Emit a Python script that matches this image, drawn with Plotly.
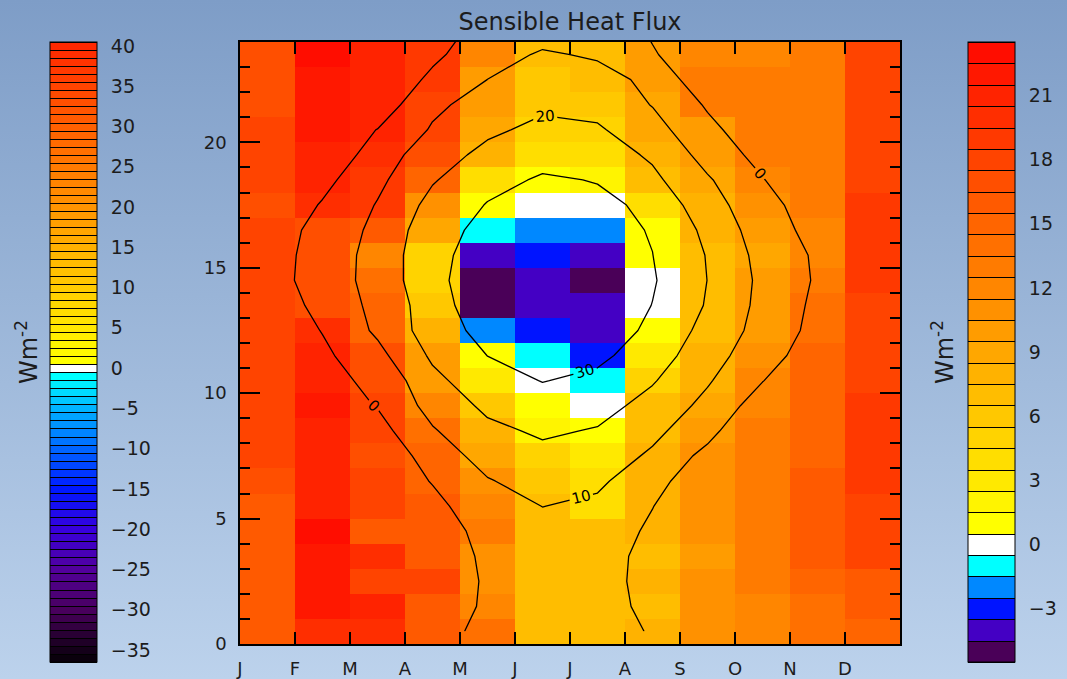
import base64
import plotly.graph_objects as go

# ---------------------------------------------------------------------------
# Data
# ---------------------------------------------------------------------------
months = ["J", "F", "M", "A", "M", "J", "J", "A", "S", "O", "N", "D"]
hour_ticks = [0, 5, 10, 15, 20]

# Sensible heat flux (W m-2), one list per month, hours 0..23
shf_jan = [16, 16, 16, 16, 16, 16, 17, 18, 18, 18, 18, 18, 18, 18, 18, 18, 18, 17, 18, 18, 18, 17, 17, 17]
shf_feb = [20, 22, 22, 22, 23, 21, 21, 21, 21, 22, 21, 21, 20, 17, 17, 17, 17, 20, 21, 21, 22, 22, 22, 23]
shf_mar = [20, 21, 18, 20, 16, 18, 18, 17, 18, 18, 17, 17, 15, 15, 14, 12, 16, 19, 19, 20, 21, 21, 21, 21]
shf_apr = [16, 16, 18, 16, 16, 16, 15, 15, 14, 12, 10, 10, 8, 6, 5, 5, 9, 11, 15, 17, 18, 18, 19, 19]
shf_may = [14, 12, 11, 11, 13, 12, 11, 9, 8, 6, 3, 1, -2, -5, -5, -4, -1, 1, 4, 8, 9, 10, 10, 12]
shf_jun = [7, 7, 7, 7, 7, 7, 6, 5, 2, 1, 0, -1, -3, -4, -4, -3, -2, 0, 1, 4, 5, 6, 6, 7]
shf_jul = [7, 7, 7, 7, 7, 4, 4, 3, 1, 0, -1, -3, -4, -4, -5, -4, -2, 0, 2, 4, 5, 6, 7, 7]
shf_aug = [8, 7, 8, 7, 8, 8, 8, 8, 7, 7, 5, 3, 1, 0, 0, 1, 1, 4, 7, 8, 9, 9, 10, 10]
shf_sep = [11, 11, 11, 10, 11, 11, 11, 11, 10, 9, 8, 8, 7, 7, 7, 7, 8, 8, 9, 10, 10, 13, 13, 12]
shf_oct = [12, 12, 13, 13, 13, 13, 13, 13, 13, 12, 12, 11, 10, 10, 10, 9, 10, 11, 12, 13, 13, 13, 13, 12]
shf_nov = [14, 14, 15, 16, 16, 16, 16, 15, 15, 15, 15, 15, 14, 14, 13, 12, 12, 13, 13, 13, 13, 13, 13, 13]
shf_dec = [15, 16, 16, 18, 18, 18, 19, 19, 19, 19, 18, 18, 18, 18, 19, 19, 19, 19, 18, 18, 18, 18, 18, 18]

# Field drawn as labelled contour lines (W m-2), sampled at the cell
# centres, hours 0.5..24.5 (the last sample wraps round to 0.5)
ctr_jan = [-16, -16, -16, -15, -14, -13, -12, -12, -11, -10, -9, -8, -7.6, -7.4, -4.4, -4.7, -5.2, -8.1, -10, -11, -12, -13, -14, -15, -16]
ctr_feb = [-18, -18, -18, -17, -16, -15, -13, -12, -10, -5.8, -2.5, -2.0, 0.4, 3.5, 4.6, 4.3, 3.2, 0.8, -2.8, -7.7, -6, -10, -13, -16, -18]
ctr_mar = [-15, -15, -15, -14, -13, -11, -8, -8.2, -3.6, 0.5, 1.9, 7.1, 11.7, 12.5, 13.6, 13.5, 12.4, 10.6, 7.8, 4.7, 0.2, -5.7, -8.4, -12, -15]
ctr_apr = [-6, -6, -7, -7, -6, -3, 0.6, 4.8, 9.1, 13.5, 17.5, 21.6, 24.9, 25.2, 27.2, 27.3, 26.0, 23.0, 19.2, 15.7, 11.0, 7.9, 2.1, -2.1, -6]
ctr_may = [4.3, 1.5, 1.3, 2.1, 3.8, 6.7, 9.4, 13.6, 17.8, 22, 26.1, 30.1, 33.3, 37, 36.5, 34.4, 32.9, 30.5, 27, 22.5, 18.3, 14.2, 10.05, 6.4, 4.3]
ctr_jun = [6, 5, 5, 5.5, 7.5, 10.1, 13.7, 17.5, 21.4, 25.8, 30.3, 33, 36, 40, 40, 38, 35, 32.5, 31.1, 26.8, 22.3, 18.3, 14.6, 11.0, 6]
ctr_jul = [5, 5, 5, 5.5, 7, 8.5, 11.4, 15.4, 19.3, 23.6, 27.9, 32, 35, 38, 38, 36, 33.5, 32, 29.6, 25.2, 21.2, 16.8, 12.9, 9.0, 5]
ctr_aug = [-0.9, -3.2, -4.4, -4.2, -2.1, 0.3, 5.0, 8.5, 12.4, 16.6, 20.8, 25.3, 28.2, 29.8, 30.9, 30.1, 29.4, 28.2, 22.2, 18.5, 13.7, 9.6, 8.1, 0.6, -0.9]
ctr_sep = [-7, -9, -10, -10, -9, -11, -10, -3.1, 3.5, 7.3, 11.0, 13.5, 16.7, 19.2, 19.9, 19.5, 17.7, 13.3, 11.1, 6.4, 2.5, -1.1, -8, -4.9, -7]
ctr_oct = [-12, -13, -13, -13, -12, -13, -13, -12, -12, -4.9, 0.3, 5.0, 6.6, 7.3, 7.8, 6.8, 4.9, 4.8, 0.5, -3.3, -6.4, -9, -12, -11, -12]
ctr_nov = [-15, -15, -15, -15, -14, -14, -14, -13, -13, -11, -9.7, -6.3, -3.0, -2.1, -1.1, -1.4, -3.3, -7.3, -9.5, -11, -12, -13, -14, -14, -15]
ctr_dec = [-16, -16, -16, -15, -14, -14, -13, -13, -12, -11, -10, -9, -8, -8, -8, -8, -9, -10, -11, -12, -13, -14, -15, -15, -16]

contour_levels = (0, 30, 10)
left_bar_range = (-36, 40)
left_bar_ticks = [-35, -30, -25, -20, -15, -10, -5, 0, 5, 10, 15, 20, 25, 30, 35, 40]
right_bar_range = (-5, 23)
right_bar_ticks = [-3, 0, 3, 6, 9, 12, 15, 18, 21]

# ---------------------------------------------------------------------------
# Colours
# ---------------------------------------------------------------------------
FONT = "DejaVu Sans"
TXT = "#1c1c1c"


def hex_rgb(h):
    h = h.lstrip("#")
    return tuple(int(h[i:i + 2], 16) for i in (0, 2, 4))


def blend(anchors, v):
    for (v0, c0), (v1, c1) in zip(anchors[:-1], anchors[1:]):
        if v0 <= v <= v1:
            t = 0 if v1 == v0 else (v - v0) / (v1 - v0)
            a, b = hex_rgb(c0), hex_rgb(c1)
            return "rgb(%d,%d,%d)" % tuple(round(a[k] + t * (b[k] - a[k])) for k in range(3))
    return anchors[-1][1]


left_anchors = [(-36, "#0a000c"), (-30, "#48005c"), (-25, "#52009c"), (-20, "#3800dc"),
                (-15, "#0018ff"), (-10, "#0064ff"), (-5, "#00b4ff"), (-1, "#00ffff"),
                (0, "#ffffff"), (0.5, "#ffffff"), (1, "#ffff00"), (10, "#ffcc00"),
                (20, "#ff9400"), (30, "#ff6000"), (40, "#ff2800")]
right_anchors = [(-5, "#4a0058"), (-4, "#4400c4"), (-3, "#0014ff"), (-2, "#0088ff"),
                 (-1, "#00ffff"), (0, "#ffffff"), (0.5, "#ffffff"), (1, "#ffff00"),
                 (23, "#ff0d00")]


def stepped_scale(anchors, lo, hi):
    n = hi - lo + 1
    scale = []
    for k, v in enumerate(range(lo, hi + 1)):
        c = blend(anchors, v)
        scale.append([k / n, c])
        scale.append([(k + 1) / n, c])
    return scale


left_scale = stepped_scale(left_anchors, *left_bar_range)
right_scale = stepped_scale(right_anchors, *right_bar_range)

# ---------------------------------------------------------------------------
# Grids
# ---------------------------------------------------------------------------
shf_cols = [shf_jan, shf_feb, shf_mar, shf_apr, shf_may, shf_jun,
            shf_jul, shf_aug, shf_sep, shf_oct, shf_nov, shf_dec]
ctr_cols = [ctr_jan, ctr_feb, ctr_mar, ctr_apr, ctr_may, ctr_jun,
            ctr_jul, ctr_aug, ctr_sep, ctr_oct, ctr_nov, ctr_dec]

x_centres = [i + 0.5 for i in range(len(months))]
shf_grid = [list(row) for row in zip(*shf_cols)]
ctr_grid = [list(row) for row in zip(*ctr_cols)]
y_heat = [j + 0.5 for j in range(len(shf_grid))]
y_ctr = [j + 0.5 for j in range(len(ctr_grid))]

# ---------------------------------------------------------------------------
# Figure
# ---------------------------------------------------------------------------
W, H = 1067, 679
ML, MR, MT, MB = 240, 167, 42, 35
PW, PH = W - ML - MR, H - MT - MB


def px_x(px):
    return (px - ML) / PW


def px_y(py):
    return (H - MB - py) / PH


fig = go.Figure()

fig.add_trace(go.Heatmap(
    x=x_centres, y=y_heat, z=shf_grid,
    zmin=right_bar_range[0] - 0.5, zmax=right_bar_range[1] + 0.5,
    colorscale=right_scale, showscale=False, hoverinfo="skip",
))

fig.add_trace(go.Contour(
    x=x_centres, y=y_ctr, z=ctr_grid,
    autocontour=False,
    contours=dict(start=contour_levels[0], end=contour_levels[1], size=contour_levels[2],
                  coloring="none", showlabels=True,
                  labelfont=dict(family=FONT, size=15, color="black")),
    line=dict(color="black", width=1.3, smoothing=0),
    showscale=False, hoverinfo="skip",
))


def bar_trace(rng, scale, ticks, x_px):
    lo, hi = rng[0] - 0.5, rng[1] + 0.5
    return go.Contour(
        x=[0, 1], y=[0, 1], z=[[lo, hi], [lo, hi]],
        xaxis="x2", yaxis="y2",
        zmin=lo, zmax=hi, autocontour=False,
        contours=dict(start=lo, end=hi, size=1, coloring="fill", showlines=True),
        line=dict(color="black", width=1),
        colorscale=scale, hoverinfo="skip",
        colorbar=dict(
            x=px_x(x_px), xref="paper", xanchor="left", xpad=0,
            y=px_y(352), yref="paper", yanchor="middle", ypad=0,
            len=620, lenmode="pixels", thickness=47, thicknessmode="pixels",
            outlinewidth=1, outlinecolor="black",
            tickmode="array", tickvals=ticks,
            ticks="outside", ticklen=10, tickcolor="rgba(0,0,0,0)",
            tickfont=dict(family=FONT, size=19, color=TXT),
        ),
    )


fig.add_trace(bar_trace(left_bar_range, left_scale, left_bar_ticks, 50))
fig.add_trace(bar_trace(right_bar_range, right_scale, right_bar_ticks, 968))

axis_common = dict(showgrid=False, zeroline=False, showline=True, linecolor="black",
                   linewidth=1.5, mirror="ticks", ticks="inside", tickcolor="black",
                   tickwidth=1.5, tickfont=dict(family=FONT, size=18, color=TXT))

bg_svg = (
    '<svg xmlns="http://www.w3.org/2000/svg" width="%d" height="%d">'
    '<defs><linearGradient id="g" x1="0" y1="0" x2="0" y2="1">'
    '<stop offset="0" stop-color="#7e9dc7"/><stop offset="1" stop-color="#bcd2ec"/>'
    '</linearGradient></defs><rect width="%d" height="%d" fill="url(#g)"/></svg>'
) % (W, H, W, H)
bg_src = "data:image/svg+xml;base64," + base64.b64encode(bg_svg.encode()).decode()

fig.update_layout(
    width=W, height=H,
    margin=dict(l=ML, r=MR, t=MT, b=MB, pad=0, autoexpand=False),
    paper_bgcolor="#9db8da", plot_bgcolor="rgba(0,0,0,0)",
    font=dict(family=FONT, color=TXT),
    title=dict(text="Sensible Heat Flux", x=0.5, xref="paper", xanchor="center",
               y=1 - 22 / H, yref="container", yanchor="middle",
               font=dict(family=FONT, size=24, color=TXT)),
    xaxis=dict(range=[0, 12], tickmode="array", tickvals=list(range(12)), ticktext=months,
               ticklen=12, ticklabelstandoff=8, **axis_common),
    yaxis=dict(range=[0, 24], tickmode="array", tickvals=hour_ticks, ticklen=20,
               ticklabelstandoff=8,
               minor=dict(dtick=1, tick0=0, ticklen=10, ticks="inside",
                          tickcolor="black", tickwidth=1.5),
               **axis_common),
    xaxis2=dict(overlaying="x", range=[10, 11], visible=False),
    yaxis2=dict(overlaying="y", range=[10, 11], visible=False),
    images=[dict(source=bg_src, xref="paper", yref="paper",
                 x=-ML / PW, y=1 + MT / PH, xanchor="left", yanchor="top",
                 sizex=W / PW, sizey=H / PH, sizing="stretch", layer="below")],
    annotations=[
        dict(text="Wm<sup>-2</sup>", textangle=-90, showarrow=False,
             xref="paper", yref="paper", x=px_x(27), y=px_y(352),
             xanchor="center", yanchor="middle",
             font=dict(family=FONT, size=24, color=TXT)),
        dict(text="Wm<sup>-2</sup>", textangle=-90, showarrow=False,
             xref="paper", yref="paper", x=px_x(943), y=px_y(352),
             xanchor="center", yanchor="middle",
             font=dict(family=FONT, size=24, color=TXT)),
    ],
    showlegend=False,
)

fig.write_html("out.html")
